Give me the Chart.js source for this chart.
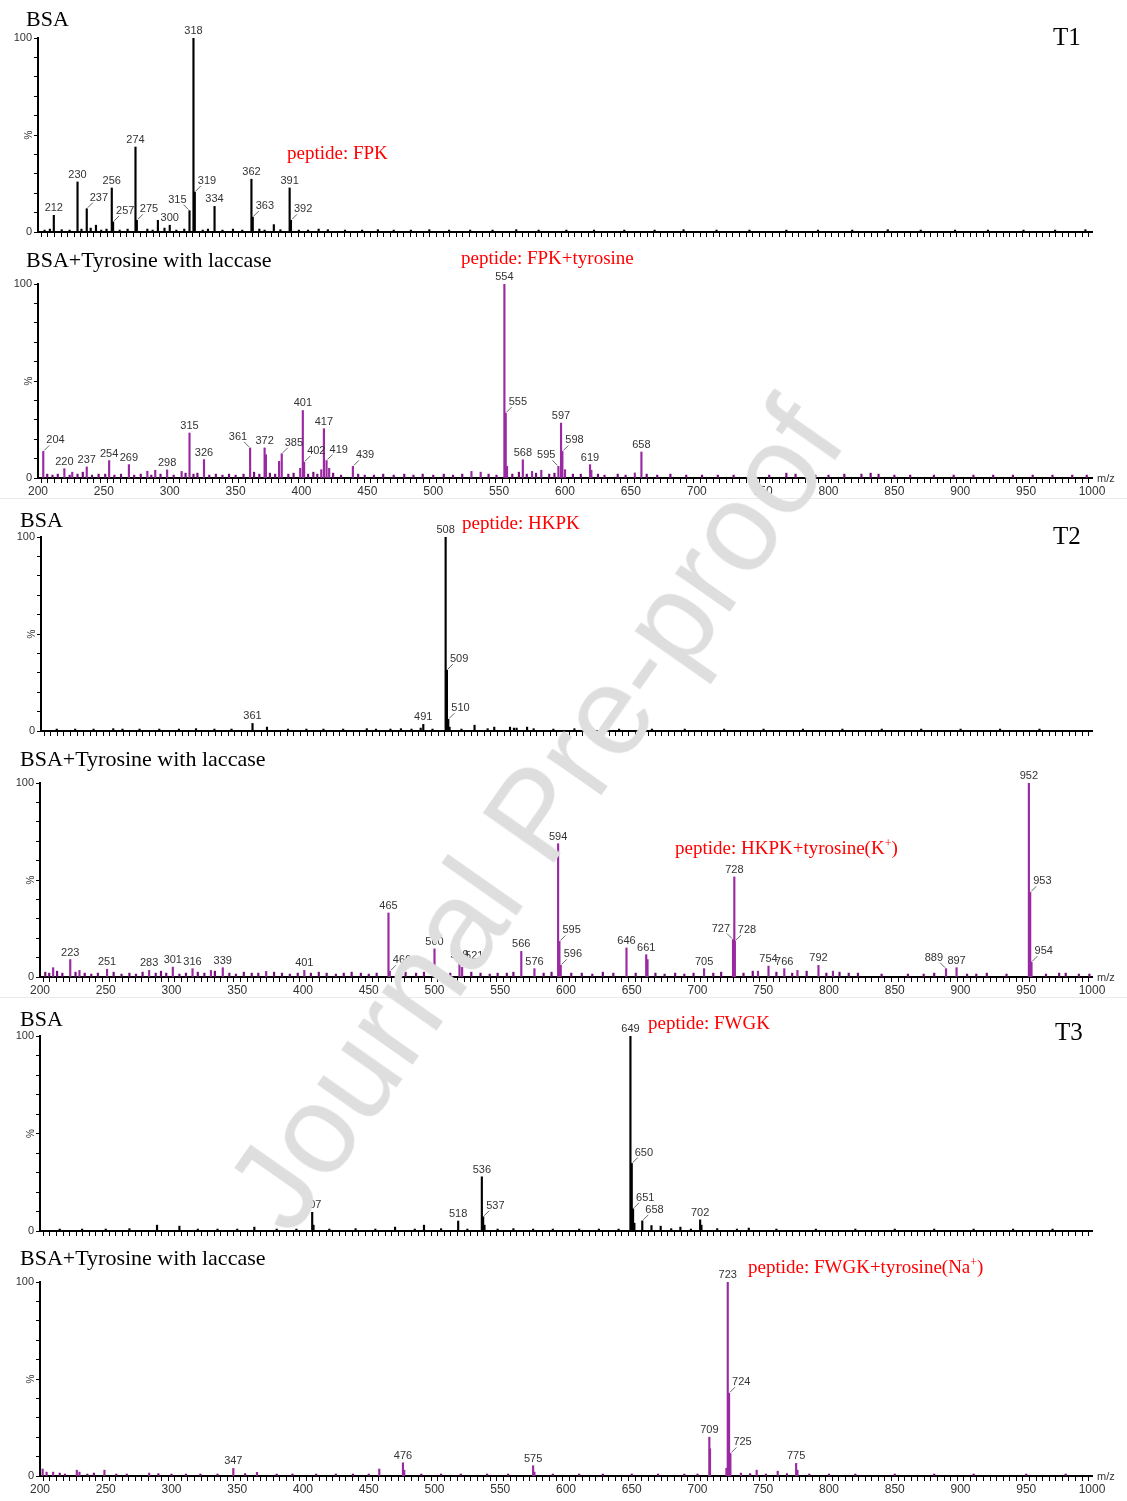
<!DOCTYPE html>
<html>
<head>
<meta charset="utf-8">
<title>BSA peptide mass spectra</title>
<script src="https://cdn.jsdelivr.net/npm/chart.js@4.4.1/dist/chart.umd.min.js"></script>
<style>
  body { margin: 0; background: #fff; }
  #page { position: relative; width: 1127px; height: 1501px; overflow: hidden; background: #fff; }
  #page canvas { position: absolute; left: 0; }
  .title { position: absolute; font-family: "Liberation Serif", "Times New Roman", serif; font-size: 22px; line-height: 1; color: #000; white-space: nowrap; }
  .tag { position: absolute; font-family: "Liberation Serif", "Times New Roman", serif; font-size: 25px; line-height: 1; color: #000; }
  .peptide { position: absolute; font-family: "Liberation Serif", "Times New Roman", serif; font-size: 19px; line-height: 1; color: #f00; white-space: nowrap; }
  .peptide span { font-size: 12px; vertical-align: 7px; line-height: 0; }
  .sep { position: absolute; left: 0; width: 1127px; height: 1px; background: #ebebeb; }
  #watermark { position: absolute; left: 535px; top: 815px; transform: translate(-50%, -50%) rotate(-55deg);
    font-family: "Liberation Sans", Arial, sans-serif; font-size: 126px; line-height: 1; color: #dedede; white-space: nowrap; }
</style>
</head>
<body>
<div id="page">
  <canvas id="c1"></canvas>
  <canvas id="c2"></canvas>
  <canvas id="c3"></canvas>
  <canvas id="c4"></canvas>
  <canvas id="c5"></canvas>
  <canvas id="c6"></canvas>

  <div class="sep" style="top:498px"></div>
  <div class="sep" style="top:997px"></div>

  <div class="title" style="left:26px; top:8px">BSA</div>
  <div class="tag" style="left:1053px; top:24px">T1</div>
  <div class="peptide" style="left:287px; top:143px">peptide: FPK</div>

  <div class="title" style="left:26px; top:249px">BSA+Tyrosine with laccase</div>
  <div class="peptide" style="left:461px; top:248px">peptide: FPK+tyrosine</div>

  <div class="title" style="left:20px; top:509px">BSA</div>
  <div class="peptide" style="left:462px; top:513px">peptide: HKPK</div>
  <div class="tag" style="left:1053px; top:523px">T2</div>

  <div class="title" style="left:20px; top:748px">BSA+Tyrosine with laccase</div>
  <div class="peptide" style="left:675px; top:838px">peptide: HKPK+tyrosine(K<span>+</span>)</div>

  <div class="title" style="left:20px; top:1008px">BSA</div>
  <div class="peptide" style="left:648px; top:1013px">peptide: FWGK</div>
  <div class="tag" style="left:1055px; top:1019px">T3</div>

  <div class="title" style="left:20px; top:1247px">BSA+Tyrosine with laccase</div>
  <div class="peptide" style="left:748px; top:1257px">peptide: FWGK+tyrosine(Na<span>+</span>)</div>

  <div id="watermark">Journal Pre-proof</div>
</div>

<script>
// m/z range shared by all six spectra
const xMin = 200;
const xMax = 1000;

// T1 - BSA
const p1Mz = [212, 230, 237, 244, 256, 257, 274, 275, 291, 300, 315, 318, 319, 334, 362, 363, 379, 391, 392];
const p1Int = [8.6, 25.8, 12, 3.5, 22.7, 5.2, 43.8, 6, 6, 3.5, 11, 100, 20.6, 13.2, 27.2, 7.7, 3.8, 22.7, 6];
const p1Labeled = [212, 230, 237, 256, 257, 274, 275, 300, 315, 318, 319, 334, 362, 363, 391, 392];
const p1LeadL = [315];
const p1LeadR = [237, 257, 275, 319, 363, 392];
const p1NoiseMz = [205, 209, 218, 224, 233, 240, 248, 252, 262, 268,
  283, 287, 296, 305, 311, 325, 329, 340, 348, 355,
  368, 372, 384, 398, 405, 413, 420, 433, 446, 458,
  470, 483, 497, 512, 528, 545, 563, 580, 601, 622,
  645, 668, 690, 715, 740, 768, 792, 818, 845, 870,
  896, 921, 948, 972, 995];
const p1NoiseInt = [1, 1.5, 1.2, 1, 1.5, 2, 1, 1.5, 1, 1.5,
  1.5, 1, 2, 1, 1.5, 1, 1.5, 1, 1.5, 1,
  1.5, 1, 1.2, 1, 1, 1.5, 1.2, 1, 1, 1.2,
  1, 1, 1.2, 1, 1, 1, 1.2, 1, 1, 1,
  1, 1, 1.2, 1, 1, 1, 1, 1, 1.2, 1,
  1, 1, 1, 1, 1.2];

// T1 - BSA + tyrosine with laccase
const p2Mz = [204, 220, 226, 237, 254, 269, 283, 289, 298, 309,
  315, 326, 361, 372, 373, 383, 385, 399, 401, 402,
  415, 417, 419, 421, 439, 529, 536, 554, 555, 556,
  568, 575, 582, 595, 597, 598, 600, 619, 620, 653, 658];
const p2Int = [13.7, 4.8, 3, 5.7, 9, 6.9, 3.5, 4, 4.2, 3.4,
  23.2, 9.5, 15.5, 15.5, 12, 8.6, 12.5, 5, 34.8, 8.2,
  4.3, 25.4, 9, 5, 6, 3.4, 3, 100, 33.5, 6,
  9.4, 3.4, 4, 6, 28.3, 13.7, 4.3, 6.9, 4, 2.6, 13.4];
const p2Labeled = [204, 220, 237, 254, 269, 298, 315, 326, 361, 372, 385, 401, 402, 417, 419, 439,
  554, 555, 568, 595, 597, 598, 619, 658];
const p2LeadL = [361, 595];
const p2LeadR = [204, 385, 402, 419, 439, 555, 598];
const p2NoiseMz = [207, 211, 215, 224, 230, 234, 241, 246, 251, 258,
  263, 273, 278, 286, 293, 303, 312, 318, 321, 330,
  335, 340, 345, 350, 356, 364, 368, 376, 380, 390,
  394, 405, 409, 412, 424, 430, 443, 448, 455, 462,
  470, 478, 485, 492, 500, 508, 515, 522, 542, 548,
  560, 565, 571, 578, 588, 592, 606, 612, 625, 630,
  640, 646, 662, 670, 680, 692, 704, 716, 728, 742,
  755, 768, 775, 790, 800, 812, 825, 832, 838, 850,
  862, 880, 895, 910, 925, 940, 955, 970, 985, 996];
const p2NoiseInt = [2, 1.5, 2, 1.5, 2, 3, 1.5, 2, 2, 1.5,
  2, 1.5, 2, 1.5, 2, 1.5, 2.5, 2, 2.5, 1.5,
  2, 1.5, 2, 1.5, 2, 3, 2, 2.5, 2, 2,
  2.5, 2, 3, 2, 2.5, 1.5, 2, 1.5, 1.5, 2,
  1.5, 2, 1.5, 2, 1.5, 2, 1.5, 2, 2, 1.5,
  2, 3, 2, 2.5, 2, 2.5, 2, 2, 2, 1.5,
  2, 1.5, 2, 1.5, 2, 1.5, 1.5, 1.5, 1.5, 1.5,
  1.5, 2.5, 2, 1.5, 1.5, 2, 2, 2.5, 2, 1.5,
  1.5, 1.5, 1.5, 1.5, 1.5, 1.5, 1.5, 1.5, 1.5, 1.5];

// T2 - BSA
const p3Mz = [361, 372, 489, 491, 508, 509, 510, 511, 530, 545, 557, 560, 570];
const p3Int = [3.9, 2, 1.5, 3.4, 100, 31.4, 6, 2, 3, 2, 2, 1.5, 2];
const p3Labeled = [361, 491, 508, 509, 510];
const p3LeadL = [];
const p3LeadR = [509, 510];
const p3NoiseMz = [212, 226, 240, 255, 262, 275, 290, 305, 318, 332,
  345, 388, 402, 415, 430, 448, 455, 466, 474, 482,
  498, 520, 540, 562, 575, 590, 606, 620, 640, 665,
  690, 720, 750, 780, 810, 840, 870, 900, 930, 960];
const p3NoiseInt = [1, 1, 1, 1.2, 1, 1, 1, 1, 1.2, 1,
  1, 1, 1, 1, 1, 1.2, 1, 1, 1.2, 1,
  1, 1, 1.2, 1.5, 1.2, 1, 1.2, 1, 1, 1,
  1, 1, 1, 1, 1, 1, 1, 1, 1, 1];

// T2 - BSA + tyrosine with laccase
const p4Mz = [210, 223, 230, 251, 283, 301, 316, 330, 339, 372,
  401, 465, 466, 500, 519, 521, 566, 576, 594, 595,
  596, 646, 661, 662, 705, 727, 728, 728.4, 746, 754,
  766, 776, 792, 803, 889, 897, 952, 953, 954];
const p4Int = [4.8, 9, 3.4, 4, 3.4, 5.1, 4.3, 3.4, 4.8, 2.9,
  3.4, 33, 2.9, 14.5, 7.7, 5, 13.2, 4.3, 68.7, 18.3,
  6, 15, 11.5, 9, 4.3, 19.3, 51.6, 18.5, 3, 5.6,
  4.3, 3.4, 6, 3, 4.3, 4.8, 100, 43.6, 7.7];
const p4Labeled = [223, 251, 283, 301, 316, 339, 401, 465, 466, 500, 519, 521, 566, 576, 594, 595, 596,
  646, 661, 705, 727, 728, 728.4, 754, 766, 792, 889, 897, 952, 953, 954];
const p4LeadL = [727, 889];
const p4LeadR = [466, 521, 595, 596, 728.4, 953, 954];
const p4NoiseMz = [204, 207, 213, 217, 227, 234, 239, 244, 256, 262,
  268, 273, 278, 288, 292, 296, 306, 311, 320, 325,
  333, 344, 349, 355, 361, 366, 378, 384, 390, 396,
  406, 412, 418, 425, 431, 437, 444, 450, 456, 472,
  478, 486, 492, 507, 512, 528, 535, 542, 548, 555,
  560, 583, 589, 604, 612, 620, 628, 636, 653, 668,
  675, 683, 690, 697, 712, 718, 735, 742, 760, 772,
  783, 798, 808, 815, 822, 840, 860, 872, 880, 905,
  912, 920, 935, 965, 975, 980, 990, 998];
const p4NoiseInt = [2.5, 2, 3, 2, 2.5, 2, 1.5, 2, 2.5, 1.5,
  2, 1.5, 2.5, 2, 3, 2, 1.5, 2, 2.5, 2,
  3, 2, 1.5, 2.5, 2, 2, 2.5, 2, 1.5, 2,
  2, 2.5, 2, 1.5, 2, 2.5, 2, 1.5, 2, 2,
  2.5, 2, 2.5, 2, 2, 2.5, 2, 1.5, 2, 2,
  2.5, 2, 2.5, 2, 2, 1.5, 2.5, 2, 2, 2,
  1.5, 2, 1.5, 2, 2, 2.5, 2, 3, 2.5, 2,
  3, 2, 2.5, 2, 2, 1.5, 1.5, 1.5, 2, 1.5,
  1.5, 2, 1.5, 1.5, 2, 2, 1.5, 1.5];

// T3 - BSA
const p5Mz = [289, 306, 363, 407, 408, 470, 492, 518, 536, 537,
  538, 649, 650, 651, 652, 658, 665, 672, 687, 702, 703, 739];
const p5Int = [3, 2.5, 2, 9.6, 3, 2, 3, 5.1, 27.8, 7.3,
  3, 100, 34.6, 11.4, 4, 5.2, 2.8, 2.5, 2, 5.7, 3, 1.5];
const p5Labeled = [407, 518, 536, 537, 649, 650, 651, 658, 702];
const p5LeadL = [];
const p5LeadR = [537, 650, 651, 658];
const p5NoiseMz = [215, 232, 250, 268, 320, 335, 350, 380, 395, 420,
  440, 455, 485, 505, 525, 548, 560, 575, 590, 610,
  625, 640, 680, 695, 715, 730, 760, 790, 820, 850,
  880, 910, 940, 970];
const p5NoiseInt = [1, 1, 1, 1.2, 1, 1, 1, 1, 1, 1,
  1.2, 1, 1, 1.2, 1, 1, 1.2, 1, 1, 1,
  1, 1, 1.2, 1, 1.2, 1, 1, 1, 1, 1,
  1, 1, 1, 1];

// T3 - BSA + tyrosine with laccase
const p6Mz = [202, 205, 210, 228, 230, 249, 283, 347, 365, 458,
  476, 477, 575, 576, 709, 709.5, 722, 723, 724, 725,
  733, 745, 761, 775, 776];
const p6Int = [3.6, 2, 2, 3, 2, 3, 1.5, 3.9, 1.9, 3.6,
  6.8, 3, 5.3, 2, 20, 14, 4, 100, 42.7, 11.6,
  1.5, 3, 2.5, 6.5, 3];
const p6Labeled = [347, 476, 575, 709, 723, 724, 725, 775];
const p6LeadL = [];
const p6LeadR = [724, 725];
const p6NoiseMz = [215, 219, 236, 241, 258, 266, 290, 300, 311, 322,
  335, 356, 380, 392, 410, 425, 438, 450, 490, 505,
  520, 540, 556, 590, 610, 628, 650, 670, 690, 700,
  740, 752, 768, 785, 800, 820, 850, 880, 910, 950, 980];
const p6NoiseInt = [1.5, 1, 1, 1.5, 1, 1, 1.2, 1, 1, 1,
  1, 1.2, 1, 1, 1, 1, 1, 1, 1, 1,
  1, 1, 1, 1, 1, 1, 1, 1, 1, 1,
  1.2, 1, 1.2, 1, 1, 1, 1, 1, 1, 1, 1];

const black = '#000';
const purple = '#9a2aa2';
const purpleDark = '#76107c';
const textColor = '#333';
const sansFont = '"Liberation Sans", Arial, sans-serif';

const panels = [
  { id: 'c1', top: 38, bottom: 232, left: 38, xLabels: false, color: black, noiseColor: black,
    mz: p1Mz, inten: p1Int, labeled: p1Labeled, leadL: p1LeadL, leadR: p1LeadR, nMz: p1NoiseMz, nInt: p1NoiseInt },
  { id: 'c2', top: 284, bottom: 478, left: 38, xLabels: true, color: purple, noiseColor: purpleDark,
    mz: p2Mz, inten: p2Int, labeled: p2Labeled, leadL: p2LeadL, leadR: p2LeadR, nMz: p2NoiseMz, nInt: p2NoiseInt },
  { id: 'c3', top: 537, bottom: 731, left: 41, xLabels: false, color: black, noiseColor: black,
    mz: p3Mz, inten: p3Int, labeled: p3Labeled, leadL: p3LeadL, leadR: p3LeadR, nMz: p3NoiseMz, nInt: p3NoiseInt },
  { id: 'c4', top: 783, bottom: 977, left: 40, xLabels: true, color: purple, noiseColor: purpleDark,
    mz: p4Mz, inten: p4Int, labeled: p4Labeled, leadL: p4LeadL, leadR: p4LeadR, nMz: p4NoiseMz, nInt: p4NoiseInt },
  { id: 'c5', top: 1036, bottom: 1231, left: 40, xLabels: false, color: black, noiseColor: black,
    mz: p5Mz, inten: p5Int, labeled: p5Labeled, leadL: p5LeadL, leadR: p5LeadR, nMz: p5NoiseMz, nInt: p5NoiseInt },
  { id: 'c6', top: 1282, bottom: 1476, left: 40, xLabels: true, color: purple, noiseColor: purpleDark,
    mz: p6Mz, inten: p6Int, labeled: p6Labeled, leadL: p6LeadL, leadR: p6LeadR, nMz: p6NoiseMz, nInt: p6NoiseInt }
];

const padTop = 40;
const xAxisHeight = 24;
const rightEdge = 1092;

// peak m/z labels, leader lines, rotated % and m/z caption
function labelPlugin(p) {
  return {
    id: 'peakLabels',
    afterDatasetsDraw(chart) {
      const { ctx, chartArea, scales: { x, y } } = chart;
      ctx.save();
      ctx.font = '11px ' + sansFont;
      ctx.fillStyle = textColor;
      ctx.strokeStyle = '#666';
      ctx.lineWidth = 1;
      ctx.textBaseline = 'alphabetic';
      p.mz.forEach((m, i) => {
        if (!p.labeled.includes(m)) return;
        const px = x.getPixelForValue(m);
        const py = y.getPixelForValue(p.inten[i]);
        const txt = String(Math.round(m));
        if (p.leadR.includes(m)) {
          ctx.beginPath();
          ctx.moveTo(px + 1, py - 1);
          ctx.lineTo(px + 6, py - 6);
          ctx.stroke();
          ctx.textAlign = 'left';
          ctx.fillText(txt, px + 3, py - 8);
        } else if (p.leadL.includes(m)) {
          ctx.beginPath();
          ctx.moveTo(px - 1, py - 1);
          ctx.lineTo(px - 6, py - 6);
          ctx.stroke();
          ctx.textAlign = 'right';
          ctx.fillText(txt, px - 3, py - 8);
        } else {
          ctx.textAlign = 'center';
          ctx.fillText(txt, px, py - 4);
        }
      });

      ctx.save();
      ctx.translate(chartArea.left - 6, y.getPixelForValue(50));
      ctx.rotate(-Math.PI / 2);
      ctx.textAlign = 'center';
      ctx.font = '10px ' + sansFont;
      ctx.fillText('%', 0, 0);
      ctx.restore();

      if (p.xLabels) {
        ctx.textAlign = 'left';
        ctx.textBaseline = 'middle';
        ctx.fillText('m/z', chartArea.right + 5, chartArea.bottom + 1);
      }
      ctx.restore();
    }
  };
}

panels.forEach((p) => {
  const canvas = document.getElementById(p.id);
  const h = p.bottom - p.top + padTop + xAxisHeight;
  canvas.width = 1127;
  canvas.height = h;
  canvas.style.top = (p.top - padTop) + 'px';

  new Chart(canvas, {
    type: 'bar',
    data: {
      datasets: [
        {
          data: p.nMz.map((m, i) => ({ x: m, y: p.nInt[i] })),
          backgroundColor: p.noiseColor,
          barThickness: 1.5,
          grouped: false
        },
        {
          data: p.mz.map((m, i) => ({ x: m, y: p.inten[i] })),
          backgroundColor: p.color,
          barThickness: 1.5,
          grouped: false
        }
      ]
    },
    options: {
      responsive: false,
      animation: false,
      events: [],
      layout: { padding: { top: padTop, right: 1127 - rightEdge, left: 0, bottom: 0 } },
      plugins: {
        legend: { display: false },
        tooltip: { enabled: false }
      },
      scales: {
        x: {
          type: 'linear',
          min: xMin,
          max: xMax,
          offset: false,
          afterFit: (scale) => { scale.height = xAxisHeight; },
          border: { display: true, color: '#000', width: 2 },
          grid: { display: true, drawOnChartArea: false, drawTicks: true, tickLength: 5, tickColor: '#000', tickWidth: 1 },
          ticks: {
            stepSize: 5,
            autoSkip: false,
            maxTicksLimit: 200,
            maxRotation: 0,
            padding: 1,
            color: textColor,
            font: { family: sansFont, size: 12 },
            callback: (v) => (p.xLabels && v % 50 === 0 ? String(v) : '')
          }
        },
        y: {
          min: 0,
          max: 100,
          afterFit: (scale) => { scale.width = p.left; },
          border: { display: true, color: '#000', width: 2 },
          grid: { display: true, drawOnChartArea: false, drawTicks: true, tickLength: 4, tickColor: '#000', tickWidth: 1 },
          ticks: {
            stepSize: 10,
            padding: 2,
            color: textColor,
            font: { family: sansFont, size: 11 },
            callback: (v) => (v === 0 || v === 100 ? String(v) : '')
          }
        }
      }
    },
    plugins: [labelPlugin(p)]
  });
});
</script>
</body>
</html>
